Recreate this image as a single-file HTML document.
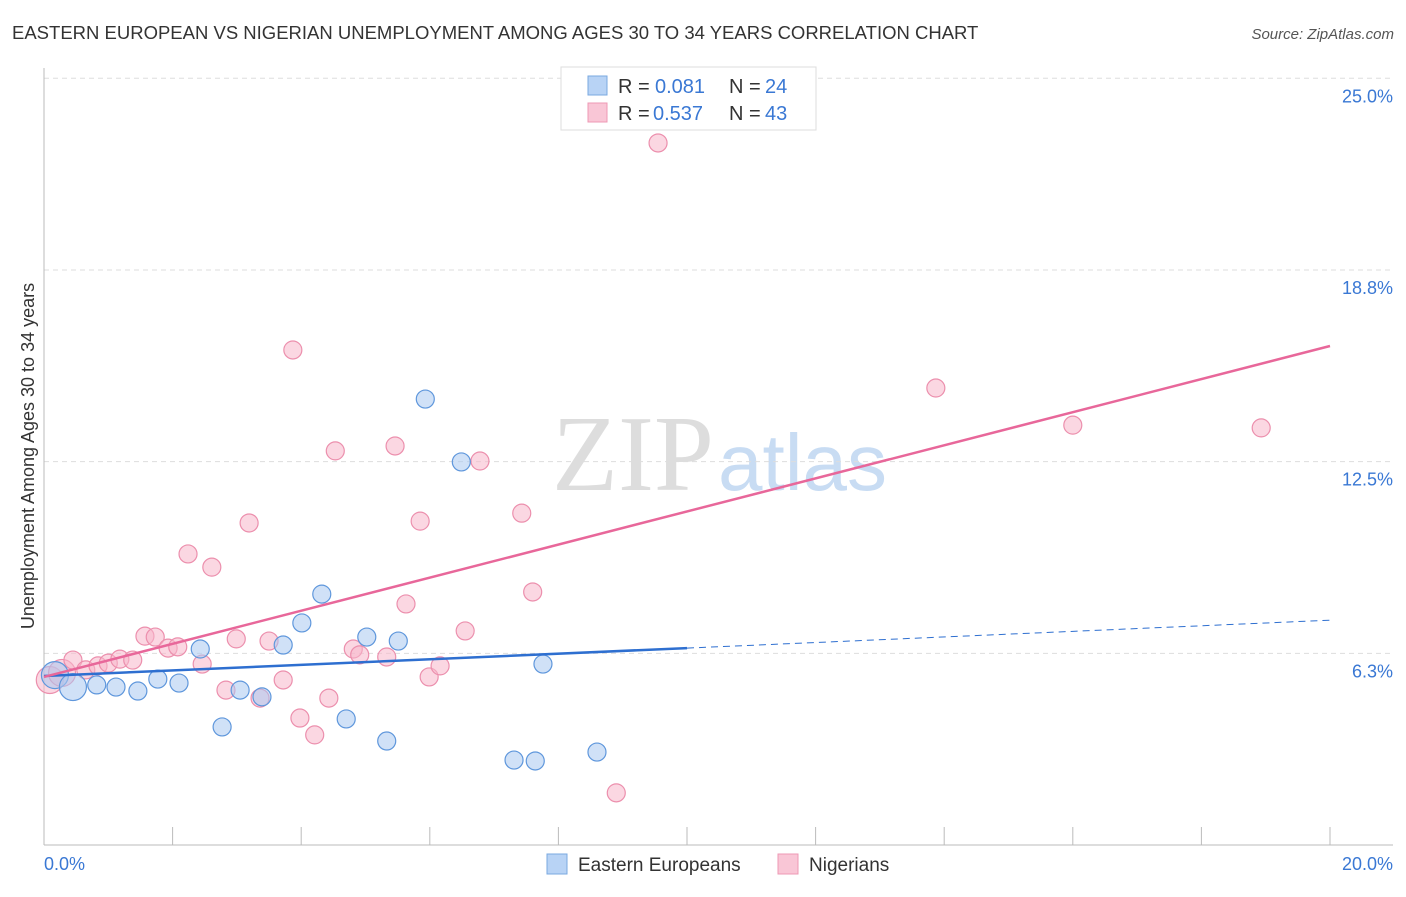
<!DOCTYPE html>
<html><head><meta charset="utf-8"><style>
body{margin:0;background:#fff;font-family:"Liberation Sans",sans-serif;}
</style></head><body>
<svg id="c" width="1406" height="892" xmlns="http://www.w3.org/2000/svg">
<text x="12" y="39" font-size="18.5" fill="#333">EASTERN EUROPEAN VS NIGERIAN UNEMPLOYMENT AMONG AGES 30 TO 34 YEARS CORRELATION CHART</text>
<text x="1394" y="39" font-size="15" fill="#555" font-style="italic" text-anchor="end">Source: ZipAtlas.com</text>
<text x="714" y="490" font-size="108" fill="#ddd" font-family="Liberation Serif,serif" text-anchor="end">ZIP</text>
<text x="718" y="490" font-size="80" fill="#c8dcf3">atlas</text>
<text transform="translate(34,456) rotate(-90)" font-size="18" fill="#333" text-anchor="middle">Unemployment Among Ages 30 to 34 years</text>
<g id="grid"></g><g id="marks"></g>
<g>
<rect x="561" y="67" width="255" height="63" fill="#fff" stroke="#ddd"/>
<rect x="588" y="76" width="19" height="19" fill="#b8d3f5" stroke="#7aa8e0"/>
<text x="618" y="93" font-size="20" fill="#333">R =</text><text x="655" y="93" font-size="20" fill="#3a78d4">0.081</text>
<text x="729" y="93" font-size="20" fill="#333">N =</text><text x="765" y="93" font-size="20" fill="#3a78d4">24</text>
<rect x="588" y="103" width="19" height="19" fill="#f9c6d6" stroke="#ee98b4"/>
<text x="618" y="120" font-size="20" fill="#333">R =</text><text x="653" y="120" font-size="20" fill="#3a78d4">0.537</text>
<text x="729" y="120" font-size="20" fill="#333">N =</text><text x="765" y="120" font-size="20" fill="#3a78d4">43</text>
</g>
<g>
<rect x="547" y="854" width="20" height="20" fill="#b8d3f5" stroke="#7aa8e0"/>
<text x="578" y="871" font-size="19" fill="#333">Eastern Europeans</text>
<rect x="778" y="854" width="20" height="20" fill="#f9c6d6" stroke="#ee98b4"/>
<text x="809" y="871" font-size="19" fill="#333">Nigerians</text>
</g>
</svg>
<script>
const yTicks=[25,18.75,12.5,6.25];
const yTickLabels=["25.0%","18.8%","12.5%","6.3%"];
const xTickLabels=["0.0%","20.0%"];
const blueX=[0.17,0.45,0.82,1.12,1.46,1.77,2.10,2.43,2.77,3.05,3.39,3.72,4.01,4.32,4.70,5.02,5.33,5.51,5.93,6.49,7.31,7.64,7.76,8.60];
const blueY=[5.54,5.15,5.22,5.15,5.02,5.41,5.28,6.39,3.85,5.05,4.83,6.52,7.24,8.18,4.11,6.78,3.39,6.65,14.54,12.49,2.77,2.74,5.90,3.03];
const pinkX=[0.09,0.28,0.45,0.65,0.84,1.00,1.18,1.38,1.57,1.73,1.93,2.08,2.24,2.46,2.61,2.83,2.99,3.19,3.36,3.50,3.72,3.87,3.98,4.21,4.43,4.53,4.81,4.91,5.33,5.46,5.63,5.85,5.99,6.16,6.55,6.78,7.43,7.60,8.90,9.55,13.87,16.00,18.93];
const pinkY=[5.38,5.61,6.03,5.71,5.84,5.93,6.06,6.03,6.81,6.78,6.42,6.46,9.49,5.90,9.06,5.05,6.72,10.50,4.79,6.65,5.38,16.14,4.14,3.59,4.79,12.85,6.39,6.20,6.13,13.01,7.86,10.56,5.48,5.84,6.98,12.52,10.82,8.25,1.70,22.89,14.90,13.69,13.60];
const blueTrend=[5.51,0.091];
const pinkTrend=[5.48,0.5395];
const X=v=>44+v*64.3, Y=v=>845-v*30.67;
const NS="http://www.w3.org/2000/svg";
function mk(t,a,p){const e=document.createElementNS(NS,t);for(const k in a)e.setAttribute(k,a[k]);p.appendChild(e);return e;}
const g=document.getElementById('grid'), m=document.getElementById('marks');
yTicks.forEach((t,i)=>{
 const l=mk('line',{x1:44,x2:1393,y1:Y(t),y2:Y(t),stroke:'#ddd','stroke-dasharray':'5,4'},g);
 
 
 const tx=mk('text',{x:1393,y:Y(t)+24,'font-size':18,fill:'#3a78d4','text-anchor':'end'},g);tx.textContent=yTickLabels[i];
 
 
});
mk('line',{x1:44,x2:44,y1:68,y2:845,stroke:'#bbb'},g);
mk('line',{x1:44,x2:1393,y1:845,y2:845,stroke:'#bbb'},g);
for(let i=0;i<=10;i++){const t=mk('line',{x1:X(i*2),x2:X(i*2),y1:827,y2:845,stroke:'#bbb'},g);
 
 }
[[44,'start',0],[1393,'end',1]].forEach(([x,a,i])=>{const t=mk('text',{x:x,y:870,'font-size':18,fill:'#3a78d4','text-anchor':a},g);t.textContent=xTickLabels[i];
 
 });
function pts(xs,ys,fill,stroke,name){xs.forEach((x,i)=>{const r=(i<2&&x<0.5)?13.5:9;
 const c=mk('circle',{cx:X(x),cy:Y(ys[i]),r:r,fill:fill,'fill-opacity':0.55,stroke:stroke,'stroke-width':1.2},m);
 
 });}
pts(pinkX,pinkY,'#f7b6ca','#ec8fad','nigerian-point');
pts(blueX,blueY,'#a9c8f0','#5f97dc','eastern-european-point');
let l=mk('line',{x1:X(0),y1:Y(blueTrend[0]),x2:X(10),y2:Y(blueTrend[0]+10*blueTrend[1]),stroke:'#2e6fd0','stroke-width':2.5},m);


l=mk('line',{x1:X(10),y1:Y(blueTrend[0]+10*blueTrend[1]),x2:X(20),y2:Y(blueTrend[0]+20*blueTrend[1]),stroke:'#2e6fd0','stroke-width':1,'stroke-dasharray':'7,5'},m);


l=mk('line',{x1:X(0),y1:Y(pinkTrend[0]),x2:X(20),y2:Y(pinkTrend[0]+20*pinkTrend[1]),stroke:'#e8679a','stroke-width':2.5},m);


</script>
</body></html>
